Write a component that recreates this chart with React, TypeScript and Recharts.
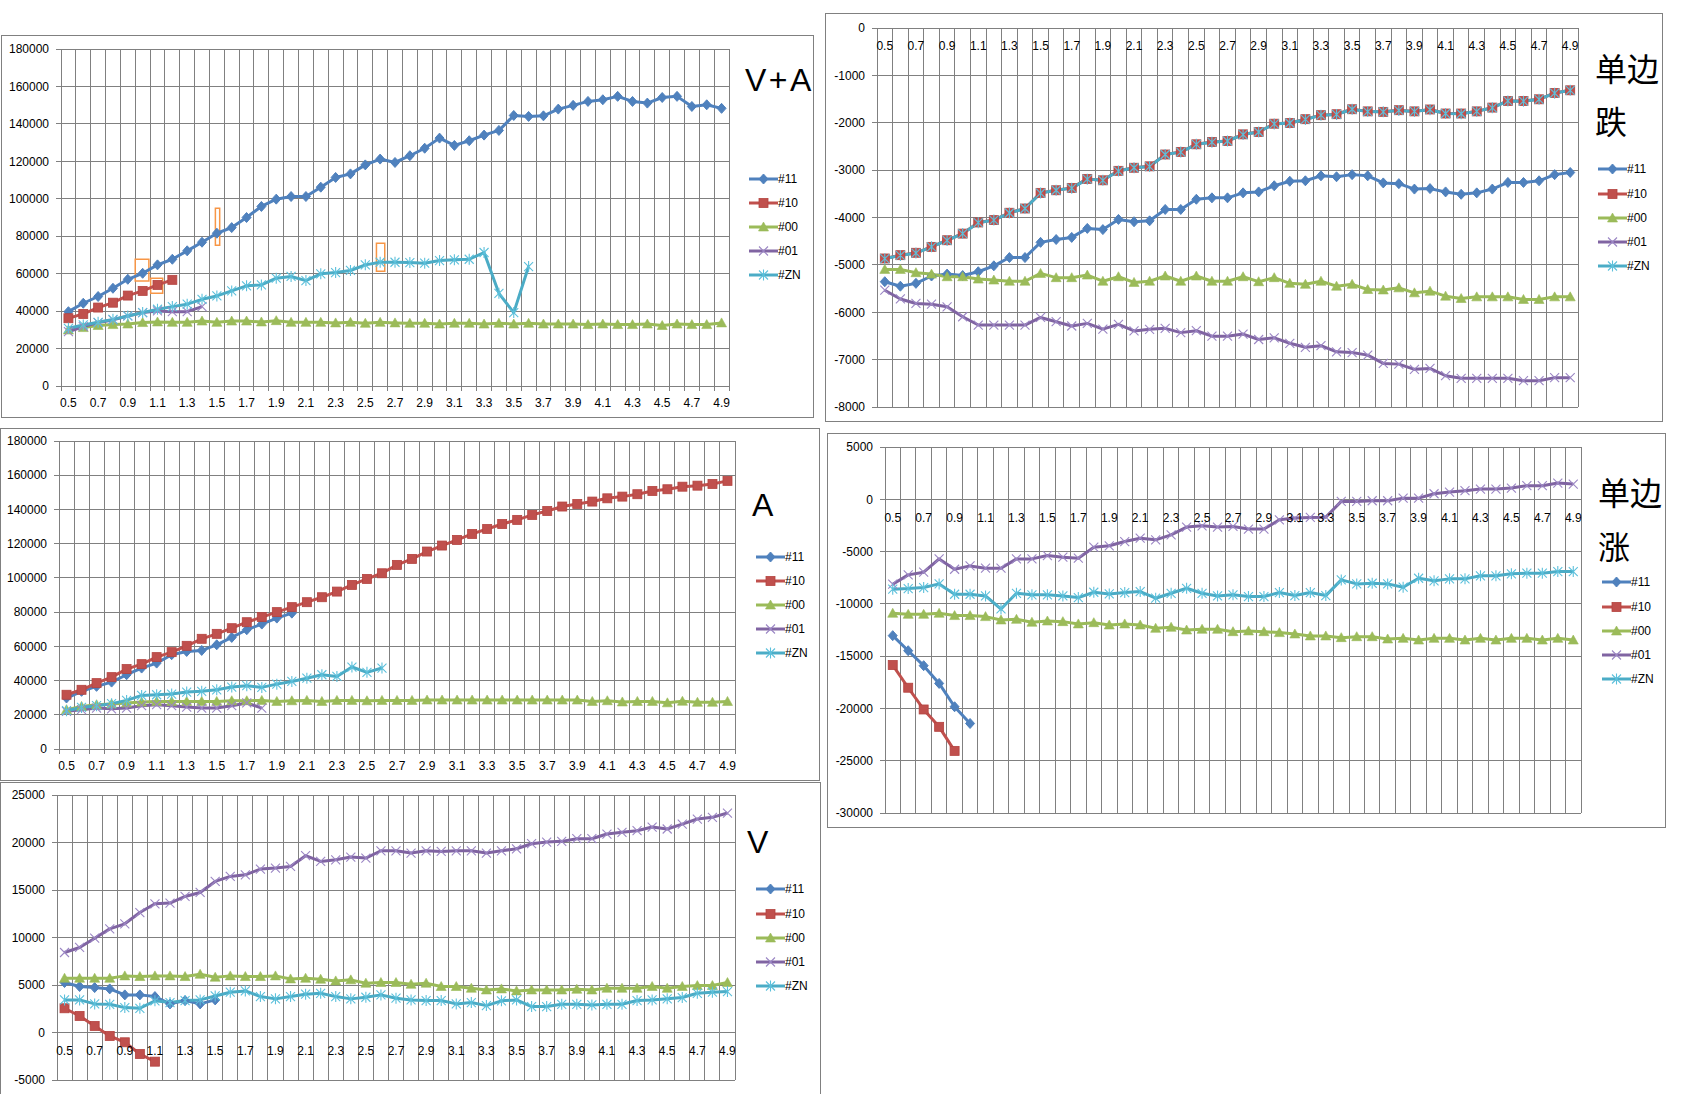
import {
  LineChart,
  Line,
  XAxis,
  YAxis,
  CartesianGrid,
  Legend,
  ReferenceArea,
} from "recharts";

const FONT = '"Liberation Sans", Arial, sans-serif';
const CJK = '"Noto Sans CJK SC", "Noto Sans", sans-serif';
const GRID = "#808080";

// categories (x axis)
const cats = [
  "0.5", "0.6", "0.7", "0.8", "0.9", "1.0", "1.1", "1.2", "1.3", "1.4",
  "1.5", "1.6", "1.7", "1.8", "1.9", "2.0", "2.1", "2.2", "2.3", "2.4",
  "2.5", "2.6", "2.7", "2.8", "2.9", "3.0", "3.1", "3.2", "3.3", "3.4",
  "3.5", "3.6", "3.7", "3.8", "3.9", "4.0", "4.1", "4.2", "4.3", "4.4",
  "4.5", "4.6", "4.7", "4.8", "4.9",
];

// y tick labels
const ticksBig = [0, 20000, 40000, 60000, 80000, 100000, 120000, 140000, 160000, 180000];
const ticksDown = [-8000, -7000, -6000, -5000, -4000, -3000, -2000, -1000, 0];
const ticksV = [-5000, 0, 5000, 10000, 15000, 20000, 25000];
const ticksUp = [-30000, -25000, -20000, -15000, -10000, -5000, 0, 5000];

// ---- V+A ----
const va11 = [39700, 44200, 47800, 52200, 57000, 60200, 64700, 67700, 72200, 76800, 81600, 84600, 90000, 95900, 99800, 101200, 101200, 106200, 111400, 113300, 118100, 121200, 119400, 123000, 127000, 132400, 128500, 131000, 134000, 136500, 144500, 144000, 144300, 147900, 149900, 152000, 152900, 154700, 152000, 151100, 154100, 154700, 149300, 150200, 148300];
const va10 = [36200, 38500, 41900, 44500, 48300, 50800, 54000, 56700];
const va00 = [29900, 31200, 32300, 32800, 33100, 33900, 34200, 34000, 34000, 34700, 34000, 34700, 34700, 34200, 34900, 34000, 34000, 34000, 33700, 34000, 33500, 34000, 33700, 33500, 33500, 33100, 33500, 33500, 33100, 33500, 33100, 33500, 33100, 33100, 33100, 32800, 33100, 32800, 32800, 33100, 32300, 33100, 32800, 32800, 33700];
const va01 = [29000, 31700, 33900, 35300, 37400, 39200, 40100, 39700, 39700, 42400];
const vaZN = [30800, 32600, 34000, 35600, 37400, 39200, 41000, 42400, 43700, 46300, 48100, 50800, 53500, 54000, 57600, 58500, 56300, 59900, 60600, 61700, 64700, 66100, 66100, 65900, 65600, 67000, 67400, 67700, 71300, 49500, 39200, 63800];
// orange highlight boxes drawn on the V+A chart (category index / value)
const vaMarks = [
  { x1: 4.5, x2: 5.42, y1: 56100, y2: 67700 },
  { x1: 5.54, x2: 6.35, y1: 49500, y2: 57600 },
  { x1: 9.9, x2: 10.19, y1: 75200, y2: 95000 },
  { x1: 20.75, x2: 21.31, y1: 61300, y2: 76300 },
];

// ---- 单边跌 ----
const dn11 = [-5355, -5450, -5390, -5235, -5195, -5225, -5145, -5020, -4845, -4845, -4525, -4465, -4420, -4230, -4255, -4040, -4090, -4070, -3830, -3830, -3615, -3585, -3585, -3480, -3460, -3330, -3235, -3225, -3120, -3140, -3095, -3120, -3270, -3285, -3400, -3390, -3460, -3510, -3480, -3400, -3260, -3260, -3225, -3095, -3050];
const dn10 = [-4865, -4795, -4745, -4620, -4480, -4340, -4105, -4055, -3900, -3810, -3480, -3425, -3375, -3185, -3215, -3015, -2950, -2920, -2670, -2615, -2455, -2405, -2385, -2245, -2195, -2020, -2005, -1925, -1840, -1820, -1715, -1760, -1770, -1735, -1760, -1720, -1805, -1805, -1760, -1680, -1540, -1540, -1505, -1370, -1315];
const dn00 = [-5095, -5095, -5165, -5195, -5250, -5250, -5300, -5320, -5345, -5345, -5180, -5270, -5270, -5215, -5345, -5250, -5370, -5345, -5235, -5345, -5235, -5345, -5345, -5250, -5355, -5270, -5390, -5410, -5345, -5450, -5410, -5520, -5530, -5485, -5590, -5555, -5660, -5710, -5675, -5675, -5675, -5730, -5730, -5675, -5675];
const dn01 = [-5535, -5720, -5815, -5830, -5885, -6095, -6270, -6270, -6270, -6270, -6110, -6200, -6290, -6235, -6355, -6255, -6395, -6360, -6340, -6430, -6390, -6505, -6505, -6460, -6575, -6540, -6655, -6740, -6705, -6835, -6850, -6905, -7080, -7095, -7205, -7185, -7340, -7395, -7395, -7395, -7395, -7445, -7445, -7380, -7380];
const dnZN = [-4870, -4800, -4750, -4620, -4485, -4340, -4110, -4055, -3905, -3810, -3485, -3425, -3380, -3190, -3215, -3020, -2950, -2925, -2670, -2620, -2455, -2410, -2385, -2250, -2195, -2025, -2005, -1930, -1840, -1825, -1715, -1765, -1770, -1740, -1760, -1725, -1805, -1810, -1760, -1685, -1540, -1545, -1505, -1375, -1315];

// ---- A ----
const ac11 = [29800, 33700, 36600, 39100, 43400, 47300, 50200, 55100, 57000, 57600, 60900, 65200, 69700, 73000, 76500, 79400];
const ac10 = [31700, 34600, 38500, 42000, 46700, 49600, 53700, 56600, 60300, 64400, 67300, 70600, 74100, 77100, 80000, 82900, 85800, 88700, 92000, 95900, 99400, 102700, 107600, 111100, 115400, 118900, 122200, 125700, 128600, 131500, 133900, 136800, 139100, 141700, 143200, 144600, 146500, 147500, 148900, 150800, 151800, 153300, 153900, 154900, 156700];
const ac00 = [23000, 24900, 25900, 26300, 26900, 27400, 27800, 27800, 27800, 27800, 27800, 28200, 28200, 28400, 27800, 28200, 28400, 27800, 28400, 28400, 28200, 28400, 28400, 28400, 28600, 28600, 28600, 28600, 28600, 28600, 28600, 28600, 28600, 28600, 28600, 27800, 28200, 27500, 27800, 27800, 27000, 27900, 27300, 27300, 27800];
const ac01 = [22000, 23000, 23900, 23500, 23900, 25300, 25900, 25300, 24500, 23900, 23900, 25300, 26900, 23900];
const acZN = [22400, 24300, 25300, 26500, 28400, 31300, 31700, 32100, 33300, 33700, 34600, 36200, 37000, 36000, 37900, 39500, 41400, 43400, 42400, 47900, 44800, 47300];

// ---- V ----
const vv11 = [5260, 4840, 4730, 4590, 3960, 3960, 3780, 3010, 3360, 3010, 3430];
const vv10 = [2550, 1740, 690, -360, -1030, -2260, -3070];
const vv00 = [5710, 5710, 5710, 5710, 5960, 5890, 5960, 5960, 5890, 6130, 5820, 5960, 5890, 5890, 5960, 5640, 5710, 5610, 5430, 5540, 5190, 5260, 5260, 5080, 5190, 4840, 4840, 4660, 4480, 4590, 4380, 4480, 4480, 4480, 4550, 4480, 4660, 4660, 4660, 4840, 4660, 4840, 4940, 4940, 5260];
const vv01 = [8420, 8950, 9930, 10910, 11440, 12630, 13550, 13620, 14320, 14740, 15900, 16430, 16600, 17200, 17310, 17480, 18610, 18010, 18180, 18470, 18360, 19130, 19130, 18890, 19130, 19060, 19130, 19130, 18890, 19130, 19340, 19870, 20050, 20120, 20400, 20400, 20890, 21070, 21240, 21630, 21420, 21940, 22470, 22650, 23100];
const vvZN = [3430, 3430, 3010, 2970, 2620, 2550, 3330, 3150, 3360, 3430, 3850, 4240, 4380, 3780, 3540, 3780, 4030, 4130, 3780, 3540, 3710, 3960, 3610, 3430, 3360, 3360, 3010, 3150, 2830, 3330, 3430, 2730, 2730, 2970, 2970, 2900, 2970, 2970, 3360, 3430, 3540, 3680, 4130, 4240, 4310];

// ---- 单边涨 ----
const up11 = [-13040, -14480, -15910, -17610, -19840, -21440];
const up10 = [-15850, -18020, -20100, -21760, -24060];
const up00 = [-10900, -11000, -11000, -10900, -11120, -11120, -11220, -11540, -11480, -11760, -11640, -11700, -11920, -11800, -12020, -11920, -12020, -12340, -12240, -12500, -12430, -12430, -12660, -12590, -12660, -12750, -12880, -13070, -13070, -13230, -13140, -13140, -13360, -13300, -13460, -13300, -13300, -13460, -13300, -13460, -13300, -13300, -13460, -13300, -13460];
const up01 = [-8120, -7230, -6970, -5700, -6690, -6370, -6590, -6590, -5700, -5700, -5380, -5540, -5630, -4580, -4450, -4040, -3720, -3880, -3400, -2660, -2540, -2660, -2600, -2850, -2850, -1960, -1800, -1740, -1710, -200, -200, -140, -140, 110, 110, 530, 690, 820, 980, 980, 1070, 1300, 1300, 1550, 1460];
const upZN = [-8600, -8540, -8440, -8090, -9080, -9080, -9240, -10490, -8990, -9140, -9140, -9240, -9400, -8890, -9050, -8920, -8830, -9460, -8990, -8510, -8990, -9240, -9140, -9300, -9300, -8920, -9210, -8920, -9210, -7710, -8090, -8030, -8090, -8410, -7550, -7800, -7610, -7610, -7320, -7320, -7130, -7070, -7070, -6910, -6910];

const series = [
  { key: "s11", name: "#11", color: "#4F81BD", shape: "diamond" },
  { key: "s10", name: "#10", color: "#C0504D", shape: "square" },
  { key: "s00", name: "#00", color: "#9BBB59", shape: "triangle" },
  { key: "s01", name: "#01", color: "#8064A2", shape: "x" },
  { key: "sZN", name: "#ZN", color: "#4BACC6", shape: "star" },
];

// label every other category, grid lines between categories
const labelTicks = cats.map((_, i) => i).filter((i) => i % 2 === 0);
const gridTicks = [...cats.map((_, i) => i - 0.5), cats.length - 0.5];
const xDomain = [-0.5, cats.length - 0.5];

const rows = (a: any[], b: any[], c: any[], d: any[], e: any[]) =>
  cats.map((label, i) => ({
    i,
    label,
    s11: a[i] ?? null,
    s10: b[i] ?? null,
    s00: c[i] ?? null,
    s01: d[i] ?? null,
    sZN: e[i] ?? null,
  }));

const charts = [
  {
    id: "va", x: 1, y: 35, w: 813, h: 383,
    margin: { top: 14, right: 85, bottom: 30, left: 0 }, yWidth: 60,
    domain: [0, 180000], yTicks: ticksBig,
    data: rows(va11, va10, va00, va01, vaZN),
    title: ["V+A"], cjk: false, titleX: 744, titleY: [45],
    legX: 748, legY: [144, 168, 192, 216, 240], marks: vaMarks,
  },
  {
    id: "dn", x: 825, y: 13, w: 838, h: 409,
    margin: { top: 15, right: 85, bottom: 14, left: 0 }, yWidth: 52,
    domain: [-8000, 0], yTicks: ticksDown,
    data: rows(dn11, dn10, dn00, dn01, dnZN),
    title: ["单边", "跌"], cjk: true, titleX: 770, titleY: [56, 109],
    legX: 773, legY: [156, 180.5, 204.5, 228.5, 252.5], marks: [],
  },
  {
    id: "ac", x: 0, y: 428, w: 820, h: 353,
    margin: { top: 13, right: 85, bottom: 30, left: 0 }, yWidth: 59,
    domain: [0, 180000], yTicks: ticksBig,
    data: rows(ac11, ac10, ac00, ac01, acZN),
    title: ["A"], cjk: false, titleX: 752, titleY: [77],
    legX: 756, legY: [128.5, 152.5, 177, 201, 225], marks: [],
  },
  {
    id: "vv", x: 0, y: 782, w: 821, h: 328,
    margin: { top: 13, right: 86, bottom: 29, left: 0 }, yWidth: 57,
    domain: [-5000, 25000], yTicks: ticksV,
    data: rows(vv11, vv10, vv00, vv01, vvZN),
    title: ["V"], cjk: false, titleX: 747, titleY: [60],
    legX: 756, legY: [107, 131.5, 155.5, 179.5, 204], marks: [],
  },
  {
    id: "up", x: 827, y: 433, w: 839, h: 395,
    margin: { top: 14, right: 85, bottom: 14, left: 0 }, yWidth: 58,
    domain: [-30000, 5000], yTicks: ticksUp,
    data: rows(up11, up10, up00, up01, upZN),
    title: ["单边", "涨"], cjk: true, titleX: 771, titleY: [60, 114],
    legX: 775, legY: [149, 173.5, 198, 222, 246], marks: [],
  },
];

// Excel style markers
function Marker({ shape, color, cx, cy }: any) {
  if (typeof cx !== "number" || typeof cy !== "number" || Number.isNaN(cy)) return <g />;
  if (shape === "diamond")
    return (
      <polygon
        points={`${cx},${cy - 5} ${cx + 4.5},${cy} ${cx},${cy + 5} ${cx - 4.5},${cy}`}
        fill={color}
        stroke={color}
      />
    );
  if (shape === "square")
    return <rect x={cx - 4.5} y={cy - 4.5} width={9} height={9} fill={color} stroke="#b4433f" strokeWidth={0.8} />;
  if (shape === "triangle")
    return (
      <polygon
        points={`${cx},${cy - 5} ${cx + 5},${cy + 4} ${cx - 5},${cy + 4}`}
        fill={color}
        stroke={color}
        strokeWidth={0.6}
      />
    );
  if (shape === "x")
    return (
      <path
        d={`M${cx - 4.5},${cy - 4.5}L${cx + 4.5},${cy + 4.5}M${cx - 4.5},${cy + 4.5}L${cx + 4.5},${cy - 4.5}`}
        stroke="#9b86c4"
        strokeWidth={1.1}
        fill="none"
      />
    );
  return (
    <path
      d={`M${cx - 4.5},${cy - 4.5}L${cx + 4.5},${cy + 4.5}M${cx - 4.5},${cy + 4.5}L${cx + 4.5},${cy - 4.5}M${cx},${cy - 5.5}L${cx},${cy + 5.5}`}
      stroke="#5cc0db"
      strokeWidth={1.1}
      fill="none"
    />
  );
}

function LegendBox({ cfg }: any) {
  const fs = 32;
  return (
    <div style={{ position: "absolute", left: 0, top: 0, width: 0, height: 0 }}>
      {cfg.title.map((t: string, i: number) => (
        <div
          key={t}
          style={{
            position: "absolute",
            left: cfg.titleX,
            top: cfg.titleY[i] - (cfg.cjk ? 0.56 : 0.49) * fs,
            fontFamily: cfg.cjk ? CJK : FONT,
            fontSize: fs,
            lineHeight: `${fs}px`,
            letterSpacing: cfg.cjk ? 0 : 2.5,
            whiteSpace: "nowrap",
            color: "#000",
          }}
        >
          {t}
        </div>
      ))}
      {series.map((s, i) => (
        <div
          key={s.key}
          style={{
            position: "absolute",
            left: cfg.legX,
            top: cfg.legY[i] - 8,
            height: 16,
            display: "flex",
            alignItems: "center",
            whiteSpace: "nowrap",
          }}
        >
          <svg width={29} height={16} style={{ display: "block" }}>
            <line x1={0} x2={29} y1={8} y2={8} stroke={s.color} strokeWidth={3} />
            <Marker shape={s.shape} color={s.color} cx={14.5} cy={8} />
          </svg>
          <span style={{ fontFamily: FONT, fontSize: 12, lineHeight: "16px", color: "#000" }}>{s.name}</span>
        </div>
      ))}
    </div>
  );
}

// vertical grid lines on the category boundaries
const gridX = ({ offset }: any) =>
  gridTicks.map((t) => offset.left + ((t - xDomain[0]) / (xDomain[1] - xDomain[0])) * offset.width);

function Panel({ cfg }: any) {
  const plotH = cfg.h - cfg.margin.top - cfg.margin.bottom - (cfg.domain[0] === 0 ? 2 : 1);
  const [yMin, yMax] = cfg.domain;
  // category labels sit under the value-0 line, as in Excel
  const shift = (plotH * (0 - yMin)) / (yMax - yMin);
  const bottomAxis = yMin === 0;

  return (
    <div style={{ position: "absolute", left: cfg.x, top: cfg.y, width: cfg.w, height: cfg.h }}>
      <div
        style={{
          position: "absolute",
          inset: 0,
          border: `1px solid ${GRID}`,
          boxSizing: "border-box",
          background: "#fff",
        }}
      />
      <LineChart width={cfg.w} height={cfg.h} data={cfg.data} margin={cfg.margin}>
        <CartesianGrid
          stroke={GRID}
          strokeWidth={1}
          shapeRendering="crispEdges"
          verticalCoordinatesGenerator={gridX}
        />
        <XAxis
          xAxisId="grid"
          dataKey="i"
          type="number"
          domain={xDomain}
          ticks={gridTicks}
          interval={0}
          height={1}
          hide={!bottomAxis}
          tick={() => <g />}
          axisLine={false}
          tickLine={{ stroke: GRID }}
          tickSize={5}
        />
        <XAxis
          xAxisId="lab"
          dataKey="i"
          type="number"
          domain={xDomain}
          ticks={labelTicks}
          interval={0}
          height={1}
          axisLine={false}
          tickLine={false}
          tickSize={0}
          tickMargin={0}
          tick={(p: any) => (
            <text
              key={p.index}
              x={p.x}
              y={p.y - (bottomAxis ? 1 : 0) - shift + 17}
              dy="0.36em"
              textAnchor="middle"
              fontFamily={FONT}
              fontSize={12}
              fill="#000"
            >
              {cats[p.payload.value]}
            </text>
          )}
        />
        <YAxis
          type="number"
          domain={cfg.domain}
          ticks={cfg.yTicks}
          interval={0}
          width={cfg.yWidth}
          axisLine={{ stroke: GRID }}
          tickLine={{ stroke: GRID }}
          tickSize={5}
          tickMargin={7}
          tick={{ fill: "#000", fontSize: 12, fontFamily: FONT }}
        />
        {series.map((s) => (
          <Line
            key={s.key}
            xAxisId="lab"
            type="linear"
            dataKey={s.key}
            name={s.name}
            stroke={s.color}
            strokeWidth={3}
            strokeLinejoin="round"
            dot={(p: any) => (
              <g key={`${s.key}-${p.index}`}>
                <Marker shape={s.shape} color={s.color} cx={p.cx} cy={p.cy} />
              </g>
            )}
            activeDot={false}
            isAnimationActive={false}
          />
        ))}
        {cfg.marks.map((m: any, k: number) => (
          <ReferenceArea
            key={k}
            xAxisId="lab"
            x1={m.x1}
            x2={m.x2}
            y1={m.y1}
            y2={m.y2}
            fill="none"
            stroke="#F79646"
            strokeWidth={1.5}
            ifOverflow="visible"
          />
        ))}
        <Legend
          layout="vertical"
          align="right"
          verticalAlign="top"
          wrapperStyle={{ left: 0, top: 0, right: "auto", bottom: "auto", width: 0, height: 0 }}
          content={() => <LegendBox cfg={cfg} />}
        />
      </LineChart>
    </div>
  );
}

export default function App() {
  return (
    <div
      style={{
        position: "absolute",
        left: 0,
        top: 0,
        width: 1684,
        height: 1094,
        overflow: "hidden",
        background: "#fff",
      }}
    >
      {/* crisp 1px Excel-like grid */}
      <style>{`
        .recharts-cartesian-grid line,
        .recharts-cartesian-axis-line,
        .recharts-cartesian-axis-tick-line { shape-rendering: crispEdges; }
      `}</style>
      {charts.map((c) => (
        <Panel key={c.id} cfg={c} />
      ))}
    </div>
  );
}
